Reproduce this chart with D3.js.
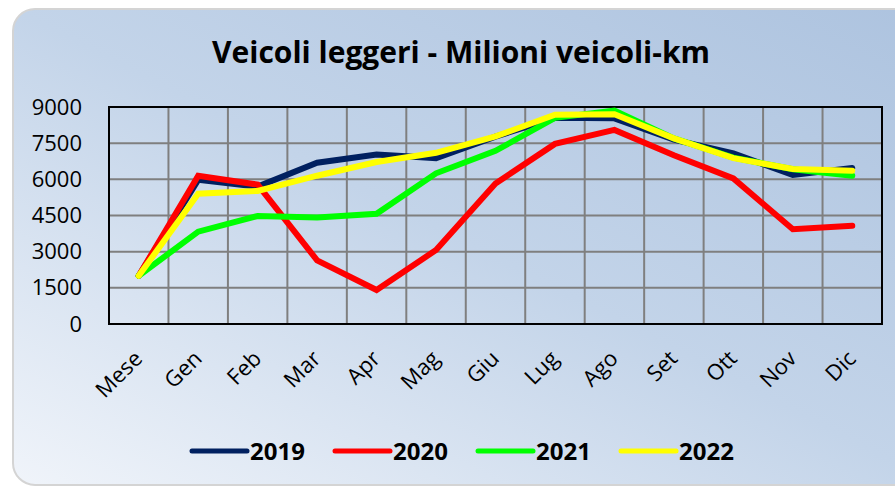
<!DOCTYPE html>
<html lang="it">
<head>
<meta charset="utf-8">
<script src="https://cdn.jsdelivr.net/npm/d3@7"></script>
<style>
  html, body { margin: 0; padding: 0; background: #fff; }
  svg { display: block; }
</style>
</head>
<body>
<div id="chart"></div>
<script>
const months = ["Mese", "Gen", "Feb", "Mar", "Apr", "Mag", "Giu", "Lug", "Ago", "Set", "Ott", "Nov", "Dic"];
const years = ["2019", "2020", "2021", "2022"];
const v2019 = [2000, 5980, 5700, 6690, 7030, 6880, 7770, 8550, 8530, 7650, 7080, 6180, 6470];
const v2020 = [2000, 6150, 5780, 2640, 1410, 3070, 5830, 7470, 8050, 7000, 6040, 3930, 4070];
const v2021 = [2000, 3830, 4480, 4420, 4570, 6250, 7180, 8550, 8850, 7700, 6900, 6420, 6150];
const v2022 = [2000, 5400, 5520, 6150, 6720, 7100, 7780, 8680, 8700, 7700, 6880, 6430, 6360];
const yTicks = [0, 1500, 3000, 4500, 6000, 7500, 9000];
const colors = ["#002060", "#ff0000", "#00ff00", "#ffff00"];

const series = years.map((y, i) => ({ name: y, values: [v2019, v2020, v2021, v2022][i], color: colors[i] }));

const W = 895, H = 487;
const margin = { left: 109, right: 13, top: 107, bottom: 163 };
const font = "'Open Sans', sans-serif";

const svg = d3.select("#chart").append("svg")
  .attr("width", W)
  .attr("height", H);

// background card gradient
const defs = svg.append("defs");
const grad = defs.append("linearGradient")
  .attr("id", "bg")
  .attr("x1", "0%").attr("y1", "100%")
  .attr("x2", "100%").attr("y2", "0%");
grad.append("stop").attr("offset", "0%").attr("stop-color", "#f0f4fa");
grad.append("stop").attr("offset", "50%").attr("stop-color", "#c3d4e9");
grad.append("stop").attr("offset", "100%").attr("stop-color", "#adc3df");

svg.append("rect")
  .attr("x", 13).attr("y", 9)
  .attr("width", W + 30).attr("height", H - 11)
  .attr("rx", 22)
  .attr("fill", "url(#bg)")
  .attr("stroke", "#d4d4d4")
  .attr("stroke-width", 2);

// title
svg.append("text")
  .attr("x", 461).attr("y", 63)
  .attr("text-anchor", "middle")
  .attr("font-family", font)
  .attr("font-weight", "bold")
  .attr("font-size", 30)
  .attr("fill", "#000")
  .text("Veicoli leggeri - Milioni veicoli-km");

const x = d3.scaleBand()
  .domain(months)
  .range([margin.left, W - margin.right]);

const y = d3.scaleLinear()
  .domain([0, 9000])
  .range([H - margin.bottom, margin.top]);

// grid
const grid = svg.append("g");
grid.selectAll("line.h")
  .data(yTicks.slice(1, -1))
  .join("line")
  .attr("x1", margin.left).attr("x2", W - margin.right)
  .attr("y1", d => y(d)).attr("y2", d => y(d))
  .attr("stroke", "#7f7f7f").attr("stroke-width", 2);
grid.selectAll("line.v")
  .data(months.slice(1))
  .join("line")
  .attr("x1", d => x(d)).attr("x2", d => x(d))
  .attr("y1", margin.top).attr("y2", H - margin.bottom)
  .attr("stroke", "#7f7f7f").attr("stroke-width", 2);

svg.append("rect")
  .attr("x", margin.left).attr("y", margin.top)
  .attr("width", W - margin.left - margin.right)
  .attr("height", H - margin.top - margin.bottom)
  .attr("fill", "none")
  .attr("stroke", "#000")
  .attr("stroke-width", 2);

// y axis
const yAxis = svg.append("g")
  .attr("transform", `translate(${margin.left},0)`)
  .call(d3.axisLeft(y).tickValues(yTicks).tickFormat(d3.format("d")).tickSize(0).tickPadding(27));
yAxis.select(".domain").remove();
yAxis.selectAll("text")
  .attr("font-family", font)
  .attr("font-size", 22)
  .attr("fill", "#000");

// x axis, rotated labels
const xAxis = svg.append("g")
  .attr("transform", `translate(0,${H - margin.bottom})`)
  .call(d3.axisBottom(x).tickSize(0));
xAxis.select(".domain").remove();
xAxis.selectAll("text")
  .attr("font-family", font)
  .attr("font-size", 22)
  .attr("fill", "#000")
  .attr("text-anchor", "end")
  .attr("dy", 0)
  .attr("y", 0)
  .attr("transform", "translate(5,36) rotate(-45)");

// lines
const line = d3.line()
  .x((d, i) => x(months[i]) + x.bandwidth() / 2)
  .y(d => y(d));

svg.append("g").selectAll("path")
  .data(series)
  .join("path")
  .attr("d", d => line(d.values))
  .attr("fill", "none")
  .attr("stroke", d => d.color)
  .attr("stroke-width", 6)
  .attr("stroke-linejoin", "miter")
  .attr("stroke-linecap", "round");

// legend
const legend = svg.append("g")
  .attr("transform", "translate(192,451)");
const item = legend.selectAll("g")
  .data(series)
  .join("g")
  .attr("transform", (d, i) => `translate(${i * 143},0)`);
item.append("line")
  .attr("x1", 0).attr("x2", 55)
  .attr("stroke", d => d.color)
  .attr("stroke-width", 5)
  .attr("stroke-linecap", "round");
item.append("text")
  .attr("x", 58).attr("y", 9)
  .attr("font-family", font)
  .attr("font-weight", "bold")
  .attr("font-size", 24)
  .attr("fill", "#000")
  .text(d => d.name);
</script>
</body>
</html>
